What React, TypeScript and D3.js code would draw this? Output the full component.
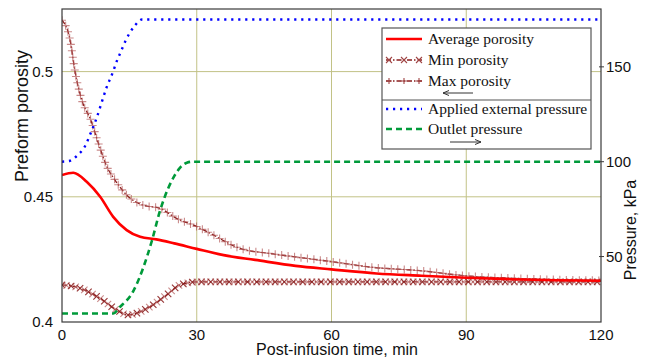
import React, { useEffect, useRef } from 'react';
import * as d3 from 'd3';

const avgTime = [0, 2.5, 5.5, 8.5, 11.4, 14.4, 17.4, 21, 25, 30, 36, 43, 52, 60, 70, 80, 90, 100, 110, 120];
const avgPorosity = [0.4587, 0.4596, 0.456, 0.45, 0.442, 0.4367, 0.434, 0.433, 0.4314, 0.4292, 0.4267, 0.4248, 0.4224, 0.421, 0.4194, 0.4185, 0.4177, 0.4171, 0.4167, 0.4165];

const minTime = [0, 3.3, 8.4, 12.2, 14.8, 16.6, 19.6, 23.3, 26.3, 30, 45, 60, 90, 120];
const minPorosity = [0.4148, 0.4139, 0.4095, 0.4048, 0.4028, 0.4035, 0.4061, 0.4108, 0.4148, 0.416, 0.416, 0.416, 0.416, 0.416];

const maxTime = [0, 1.8, 2.9, 4.4, 6.4, 8.1, 10, 11.8, 14.4, 18, 21.8, 25.5, 30, 33, 39.6, 47, 54.5, 60, 69.3, 79.7, 90, 100, 110, 120];
const maxPorosity = [0.5205, 0.5126, 0.5, 0.4887, 0.4807, 0.4714, 0.462, 0.4567, 0.4507, 0.4467, 0.4454, 0.4414, 0.4381, 0.4354, 0.4294, 0.4272, 0.4254, 0.4241, 0.4218, 0.4205, 0.4184, 0.4175, 0.4169, 0.4166];

const extTime = [0, 1.8, 3.3, 5.3, 6.2, 7.7, 8.8, 9.9, 11.3, 12.2, 13.1, 14.2, 15.1, 16.3, 17.8, 120];
const extPressure = [100, 100.5, 103, 109, 114, 123, 131, 139, 147, 153, 158, 164, 168, 172, 175, 175];

const outletTime = [0, 11.4, 12.9, 15.9, 18.1, 20, 21.8, 23.7, 24.8, 26.3, 27.8, 29, 120];
const outletPressure = [20, 20, 23.4, 31.9, 44.2, 58.2, 74, 86.3, 91.6, 96.9, 99.5, 100, 100];

const xTicks = [0, 30, 60, 90, 120];
const leftTicks = [0.4, 0.45, 0.5];
const leftTickLabels = ['0.4', '0.45', '0.5'];
const rightTicks = [50, 100, 150];
const gridX = [30, 60, 90];
const gridY = [0.45, 0.5];

const legendItems = ['Average porosity', 'Min porosity', 'Max porosity', 'Applied external pressure', 'Outlet pressure'];

const App = () => {
  const svgRef = useRef<SVGSVGElement>(null);

  useEffect(() => {
    const W = 647;
    const H = 360;
    const left = 62, right = 601, top = 9, bottom = 322;
    const sans = '"Liberation Sans", Arial, sans-serif';
    const serif = '"Liberation Serif", "Times New Roman", serif';
    const grid = '#c2c286';
    const dark = '#8b1e1e';
    const blueDash = '2.2,4.8';

    const svg = d3.select(svgRef.current);
    svg.selectAll('*').remove();
    svg.attr('width', W).attr('height', H);

    const x = d3.scaleLinear().domain([0, 120]).range([left, right]);
    const yL = d3.scaleLinear().domain([0.4, 0.525]).range([bottom, top]);
    const yR = d3.scaleLinear().domain([15.5, 180.5]).range([bottom, top]);

    svg.append('rect').attr('width', W).attr('height', H).attr('fill', 'white');

    // grid
    svg.selectAll('.gx').data(gridX).enter().append('line')
      .attr('x1', d => x(d)).attr('x2', d => x(d))
      .attr('y1', top).attr('y2', bottom)
      .attr('stroke', grid).attr('stroke-width', 1);
    svg.selectAll('.gy').data(gridY).enter().append('line')
      .attr('x1', left).attr('x2', right)
      .attr('y1', d => yL(d)).attr('y2', d => yL(d))
      .attr('stroke', grid).attr('stroke-width', 1);

    const clip = svg.append('clipPath').attr('id', 'plotclip');
    clip.append('rect').attr('x', left).attr('y', top - 2).attr('width', right - left).attr('height', bottom - top + 4);
    const g = svg.append('g').attr('clip-path', 'url(#plotclip)');

    const porLine = (ts: number[]) => d3.line<number>()
      .x((d, i) => x(ts[i]))
      .y(d => yL(d))
      .curve(d3.curveMonotoneX);
    const presLine = (ts: number[]) => d3.line<number>()
      .x((d, i) => x(ts[i]))
      .y(d => yR(d))
      .curve(d3.curveMonotoneX);

    // markers placed along a drawn path
    const markAlong = (path: SVGPathElement, step: number, kind: string) => {
      const len = path.getTotalLength();
      const pts: { x: number; y: number }[] = [];
      for (let s = 0; s <= len; s += step) {
        const p = path.getPointAtLength(s);
        pts.push({ x: p.x, y: p.y });
      }
      const s = 3.2;
      g.selectAll(null).data(pts).enter().append('path')
        .attr('d', d => kind === 'x'
          ? `M${d.x - s},${d.y - s}L${d.x + s},${d.y + s}M${d.x - s},${d.y + s}L${d.x + s},${d.y - s}`
          : `M${d.x - s - 0.8},${d.y}L${d.x + s + 0.8},${d.y}M${d.x},${d.y - s - 0.8}L${d.x},${d.y + s + 0.8}`)
        .attr('stroke', (d, i) => (kind === 'x' && i % 2 === 0) ? dark : '#b45a5a')
        .attr('stroke-opacity', (d, i) => (kind === 'x' && i % 2 === 0) ? 0.9 : 0.7)
        .attr('stroke-width', 1.1)
        .attr('fill', 'none');
    };

    const minPath = g.append('path')
      .attr('d', porLine(minTime)(minPorosity))
      .attr('fill', 'none').attr('stroke', dark).attr('stroke-width', 1.3)
      .attr('stroke-dasharray', '5,2,1.5,2');
    markAlong(minPath.node() as SVGPathElement, 4.6, 'x');

    const maxPath = g.append('path')
      .attr('d', porLine(maxTime)(maxPorosity))
      .attr('fill', 'none').attr('stroke', dark).attr('stroke-width', 1.3)
      .attr('stroke-dasharray', '5,2,1.5,2');
    markAlong(maxPath.node() as SVGPathElement, 6.5, '+');

    g.append('path')
      .attr('d', porLine(avgTime)(avgPorosity))
      .attr('fill', 'none').attr('stroke', '#ff0000').attr('stroke-width', 2.6);

    g.append('path')
      .attr('d', presLine(extTime)(extPressure))
      .attr('fill', 'none').attr('stroke', '#0000ff').attr('stroke-width', 2.4)
      .attr('stroke-dasharray', blueDash);

    g.append('path')
      .attr('d', presLine(outletTime)(outletPressure))
      .attr('fill', 'none').attr('stroke', '#009a3a').attr('stroke-width', 2.6)
      .attr('stroke-dasharray', '6,4');

    // frame
    svg.append('rect')
      .attr('x', left).attr('y', top).attr('width', right - left).attr('height', bottom - top)
      .attr('fill', 'none').attr('stroke', '#3a3a3a').attr('stroke-width', 1.2);

    // right ticks
    svg.selectAll('.rt').data(rightTicks).enter().append('line')
      .attr('x1', right - 2).attr('x2', right + 3)
      .attr('y1', d => yR(d)).attr('y2', d => yR(d))
      .attr('stroke', '#3a3a3a');

    // tick labels
    svg.selectAll('.lt').data(leftTicks).enter().append('text')
      .attr('x', 53).attr('y', d => yL(d)).attr('dy', '0.35em')
      .attr('text-anchor', 'end')
      .style('font-family', sans).style('font-size', '15px').attr('fill', '#111')
      .text((d, i) => leftTickLabels[i]);
    svg.selectAll('.rl').data(rightTicks).enter().append('text')
      .attr('x', 606).attr('y', d => yR(d)).attr('dy', '0.35em')
      .style('font-family', sans).style('font-size', '15px').attr('fill', '#111')
      .text(d => d);
    svg.selectAll('.bl').data(xTicks).enter().append('text')
      .attr('x', d => x(d)).attr('y', 339.5)
      .attr('text-anchor', 'middle')
      .style('font-family', sans).style('font-size', '15px').attr('fill', '#111')
      .text(d => d);

    // axis titles
    svg.append('text')
      .attr('x', 337).attr('y', 355)
      .attr('text-anchor', 'middle')
      .style('font-family', sans).style('font-size', '16px').attr('fill', '#111')
      .text('Post-infusion time, min');
    svg.append('text')
      .attr('transform', 'translate(28,116) rotate(-90)')
      .attr('text-anchor', 'middle')
      .style('font-family', sans).style('font-size', '18px').attr('fill', '#111')
      .text('Preform porosity');
    svg.append('text')
      .attr('transform', 'translate(636,230) rotate(-90)')
      .attr('text-anchor', 'middle')
      .style('font-family', sans).style('font-size', '16px').attr('fill', '#111')
      .text('Pressure, kPa');

    // legend
    const lg = svg.append('g');
    lg.append('rect').attr('x', 382).attr('y', 28).attr('width', 209).attr('height', 121)
      .attr('fill', 'white').attr('stroke', '#555').attr('stroke-width', 1.2);
    lg.append('line').attr('x1', 382).attr('x2', 591).attr('y1', 100).attr('y2', 100)
      .attr('stroke', '#555').attr('stroke-width', 1.2);

    const rowY = [39, 60, 81, 109, 129];
    const sx1 = 386, sx2 = 422;
    lg.selectAll('.lt').data(legendItems).enter().append('text')
      .attr('x', 428).attr('y', (d, i) => rowY[i]).attr('dy', '0.33em')
      .style('font-family', serif).style('font-size', '15.5px').attr('fill', '#111')
      .text(d => d);

    lg.append('line').attr('x1', sx1).attr('x2', sx2).attr('y1', rowY[0]).attr('y2', rowY[0])
      .attr('stroke', '#ff0000').attr('stroke-width', 2.6);
    [1, 2].forEach(r => {
      lg.append('line').attr('x1', sx1).attr('x2', sx2).attr('y1', rowY[r]).attr('y2', rowY[r])
        .attr('stroke', dark).attr('stroke-width', 1.3).attr('stroke-dasharray', '5,2,1.5,2');
      [sx1 + 3, sx1 + 18, sx2 - 3].forEach(cx => {
        const cy = rowY[r], s = 3;
        lg.append('path')
          .attr('d', r === 1
            ? `M${cx - s},${cy - s}L${cx + s},${cy + s}M${cx - s},${cy + s}L${cx + s},${cy - s}`
            : `M${cx - s},${cy}L${cx + s},${cy}M${cx},${cy - s}L${cx},${cy + s}`)
          .attr('stroke', '#a04545').attr('stroke-width', 1.1);
      });
    });
    lg.append('line').attr('x1', sx1).attr('x2', sx2).attr('y1', rowY[3]).attr('y2', rowY[3])
      .attr('stroke', '#0000ff').attr('stroke-width', 2.4).attr('stroke-dasharray', blueDash);
    lg.append('line').attr('x1', sx1).attr('x2', sx2).attr('y1', rowY[4]).attr('y2', rowY[4])
      .attr('stroke', '#009a3a').attr('stroke-width', 2.6).attr('stroke-dasharray', '6,4');

    // arrows telling which axis
    lg.append('path').attr('d', 'M443,93L473,93M443,93L449,90.5M443,93L449,95.5')
      .attr('stroke', '#333').attr('fill', 'none').attr('stroke-width', 1);
    lg.append('path').attr('d', 'M450,142L481,142M481,142L475,139.5M481,142L475,144.5')
      .attr('stroke', '#333').attr('fill', 'none').attr('stroke-width', 1);
  }, []);

  return (
    <svg ref={svgRef} style={{ position: 'absolute', left: 0, top: 0, display: 'block' }}></svg>
  );
};

export default App;
